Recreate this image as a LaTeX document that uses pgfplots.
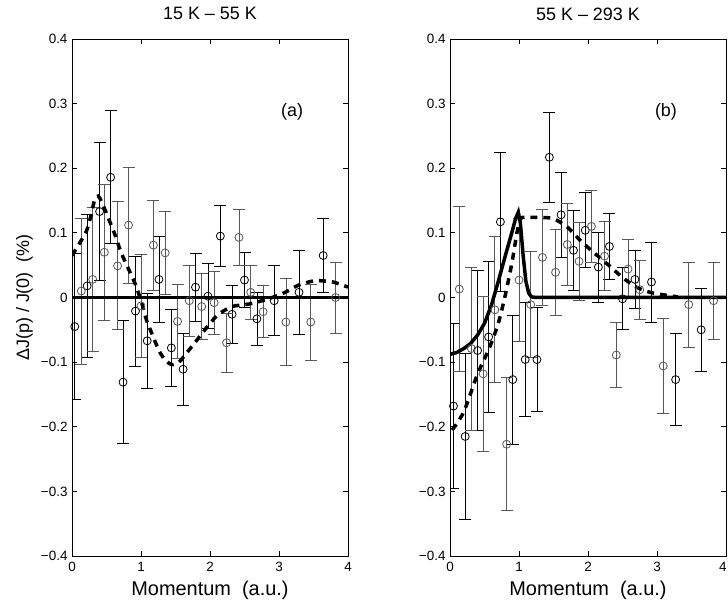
\documentclass[border=0pt]{standalone}
\usepackage{fontspec}
\setmainfont{Liberation Sans}
\usepackage{pgfplots}
\usepackage{pgfplotstable}
\pgfplotsset{compat=1.18}

\definecolor{eg}{HTML}{585858}

% panel (a): two interleaved series (x, y, half error)
\pgfplotstableread{
x y e
0.04 -0.045 0.113
0.22 0.018 0.111
0.40 0.133 0.107
0.56 0.186 0.103
0.74 -0.131 0.095
0.92 -0.021 0.085
1.09 -0.067 0.074
1.26 0.028 0.066
1.44 -0.078 0.060
1.61 -0.111 0.056
1.79 0.016 0.053
1.97 0.002 0.050
2.15 0.095 0.047
2.32 -0.026 0.045
2.50 0.027 0.043
2.68 -0.033 0.041
2.93 -0.005 0.054
3.29 0.008 0.065
3.64 0.065 0.057
}\dataAa
\pgfplotstableread{
x y e
0.135 0.010 0.113
0.30 0.028 0.111
0.47 0.070 0.105
0.66 0.049 0.099
0.82 0.112 0.090
1.00 -0.013 0.080
1.18 0.081 0.070
1.35 0.069 0.064
1.53 -0.037 0.058
1.70 -0.005 0.055
1.88 -0.014 0.051
2.06 -0.008 0.049
2.24 -0.070 0.046
2.42 0.093 0.044
2.59 0.008 0.042
2.77 -0.022 0.040
3.10 -0.038 0.067
3.46 -0.038 0.059
3.82 0.000 0.055
}\dataAb

% panel (b)
\pgfplotstableread{
x y e
0.05 -0.168 0.128
0.22 -0.215 0.128
0.40 -0.082 0.124
0.56 -0.061 0.117
0.73 0.117 0.108
0.91 -0.127 0.100
1.09 -0.096 0.088
1.26 -0.096 0.080
1.44 0.217 0.070
1.61 0.128 0.066
1.79 0.073 0.062
1.96 0.104 0.058
2.15 0.047 0.054
2.31 0.079 0.051
2.50 -0.002 0.048
2.68 0.028 0.045
2.92 0.024 0.062
3.27 -0.127 0.071
3.64 -0.050 0.064
}\dataBa
\pgfplotstableread{
x y e
0.135 0.013 0.128
0.31 -0.079 0.126
0.48 -0.118 0.120
0.65 -0.019 0.113
0.82 -0.227 0.103
1.00 0.027 0.095
1.17 -0.011 0.082
1.34 0.062 0.074
1.53 0.039 0.067
1.70 0.082 0.064
1.87 0.056 0.060
2.05 0.110 0.055
2.24 0.064 0.053
2.41 -0.089 0.050
2.58 0.044 0.046
2.75 0.012 0.046
3.09 -0.106 0.074
3.46 -0.011 0.066
3.82 -0.005 0.060
}\dataBb

\pgfplotsset{
  panel/.style={
    scale only axis, width=276bp, height=517bp,
    xmin=0, xmax=4, ymin=-0.4, ymax=0.4,
    xtick={0,1,2,3,4},
    ytick={-0.4,-0.3,-0.2,-0.1,0,0.1,0.2,0.3,0.4},
    yticklabels={−0.4,−0.3,−0.2,−0.1,0,0.1,0.2,0.3,0.4},
    xticklabels={0,1,2,3,4},
    tick align=inside, tick pos=both,
    major tick length=5bp,
    every tick/.style={black, line width=0.8bp},
    axis line style={black, line width=0.8bp},
    tick label style={font=\fontsize{13.5}{15}\selectfont},
    yticklabel style={xshift=-1bp},
    xticklabel style={yshift=-3bp},
    title style={font=\fontsize{18}{20}\selectfont, at={(axis description cs:0.5,1.037)}, anchor=center},
    xlabel style={font=\fontsize{20}{22}\selectfont, at={(axis description cs:0.5,-0.066)}, anchor=center},
    ylabel style={font=\fontsize{18}{20}\selectfont, at={(axis description cs:-0.172,0.5)}, anchor=center},
    xlabel={Momentum\ \ (a.u.)},
    clip=true,
  },
  pts/.style={only marks, mark=o, mark size=4bp, #1,
    mark options={line width=0.8bp},
    error bars/.cd, y dir=both, y explicit,
    error bar style={line width=0.8bp, #1},
    error mark options={rotate=90, mark size=6bp, line width=0.8bp, #1}},
  fitdash/.style={black, line width=3.5bp, dash pattern=on 7bp off 6bp},
  fitsolid/.style={black, line width=3.5bp},
}

\begin{document}
\begin{tikzpicture}
\begin{axis}[panel, at={(72bp,45bp)}, anchor=south west,
  title={15 K – 55 K}, ylabel={ΔJ(p) / J(0)\ \ (\%)}]
  \addplot[pts=black] table[x=x, y=y, y error=e] {\dataAa};
  \addplot[pts=eg] table[x=x, y=y, y error=e] {\dataAb};
  \addplot[fitsolid] coordinates {(0,0) (4,0)};
  \addplot[fitdash, smooth, tension=0.4] coordinates {
    (0,0.065) (0.06,0.075) (0.21,0.103) (0.275,0.127) (0.33,0.152) (0.38,0.157)
    (0.43,0.148) (0.53,0.122) (0.62,0.098) (0.71,0.07) (0.82,0.044) (0.92,0.02)
    (1.01,-0.008) (1.08,-0.035) (1.17,-0.059) (1.26,-0.082) (1.35,-0.097)
    (1.45,-0.104) (1.55,-0.100) (1.63,-0.09) (1.78,-0.07) (1.94,-0.048)
    (2.11,-0.027) (2.32,-0.014) (2.57,-0.01) (2.82,-0.003) (3.07,0.007)
    (3.28,0.019) (3.52,0.026) (3.78,0.024) (4.0,0.016)};
  \node[font=\fontsize{18}{20}\selectfont] at (axis cs:3.19,0.287) {(a)};
\end{axis}
\begin{axis}[panel, at={(450bp,45bp)}, anchor=south west,
  title={55 K – 293 K},
  xticklabels={0,1,2,3,\makebox[0pt]{\kern-6.5bp 4}}]
  \addplot[pts=black] table[x=x, y=y, y error=e] {\dataBa};
  \addplot[pts=eg] table[x=x, y=y, y error=e] {\dataBb};
  \addplot[fitsolid] coordinates {
    (0,-0.088) (0.1,-0.085) (0.2,-0.079) (0.3,-0.071) (0.4,-0.058) (0.5,-0.04)
    (0.6,-0.012) (0.7,0.025) (0.8,0.064) (0.9,0.102) (0.95,0.122) (0.99,0.132)
    (1.02,0.115) (1.06,0.065) (1.1,0.025) (1.14,0.007) (1.18,0.001) (1.25,0) (4,0)};
  \addplot[fitdash, smooth, tension=0.4] coordinates {
    (0.03,-0.205) (0.1,-0.195) (0.2,-0.177) (0.3,-0.148) (0.4,-0.118) (0.5,-0.095)
    (0.6,-0.07) (0.7,-0.04) (0.8,0.003) (0.9,0.055) (0.97,0.1) (1.02,0.122)
    (1.1,0.124) (1.3,0.124) (1.5,0.122) (1.7,0.109) (1.9,0.087) (2.1,0.068)
    (2.3,0.05) (2.5,0.031) (2.7,0.016) (2.9,0.008) (3.1,0.004) (3.3,0.001)};
  \node[font=\fontsize{18}{20}\selectfont] at (axis cs:3.13,0.287) {(b)};
\end{axis}
\pgfresetboundingbox
\path (0,0) rectangle (728bp,601bp);
\end{tikzpicture}
\end{document}
